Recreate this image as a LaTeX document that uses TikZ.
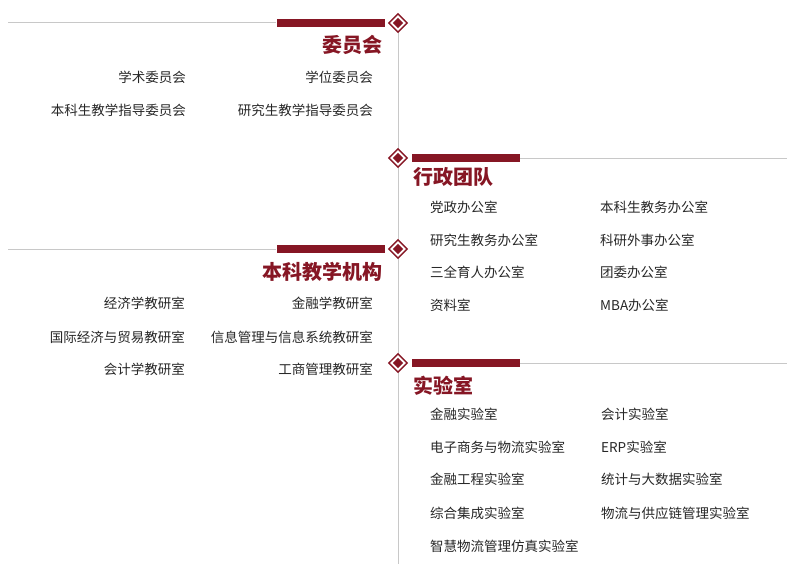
\documentclass[tikz,border=0pt]{standalone}
\usepackage{fontspec}
\setmainfont{Noto Sans CJK SC}
\usetikzlibrary{shapes.geometric}
\definecolor{darkred}{RGB}{134,22,36}
\definecolor{linegray}{RGB}{200,200,200}
\begin{document}
\begin{tikzpicture}
	[x=1pt,y=-1pt,
	bar/.style={rectangle,fill=darkred,draw=none,minimum width=108pt,minimum height=8pt,inner sep=0pt},
	outerdia/.style={diamond,draw=darkred,fill=white,line width=1.4pt,minimum size=19pt,inner sep=0pt},
	innerdia/.style={diamond,fill=darkred,minimum size=10.5pt,inner sep=0pt},
	title/.style={text=darkred,font=\fontsize{20}{22}\selectfont\bfseries,inner sep=0pt},
	item/.style={text=black!85,font=\fontsize{13.5}{15}\selectfont,inner sep=0pt}
	]
	\useasboundingbox (0,0) rectangle (800,586);
	\coordinate (d1) at (398,23);
	\coordinate (d2) at (398,158);
	\coordinate (d3) at (398,249);
	\coordinate (d4) at (398,363);
	\coordinate (vend) at (398,564);
	\draw[linegray,line width=1pt] (d1) -- (vend);

% committees
	\node[bar] (bar1) at (330.5,23){};
	\coordinate (g1) at (8,23);
	\draw[linegray,line width=1pt] (g1) -- (bar1.west);
	\node[outerdia] (dia1) at (d1){};
	\node[innerdia] at (dia1){};
	\node[title,anchor=east] (t1) at (383,45){委员会};
	\node[item,anchor=east] (c1) at (186,77){学术委员会};
	\node[item,anchor=east] (c2) at (373,77){学位委员会};
	\node[item,anchor=east] (c3) at (186,110){本科生教学指导委员会};
	\node[item,anchor=east] (c4) at (373,110){研究生教学指导委员会};

% administration
	\node[bar] (bar2) at (466,158){};
	\coordinate (g2) at (787,158);
	\draw[linegray,line width=1pt] (bar2.east) -- (g2);
	\node[outerdia] (dia2) at (d2){};
	\node[innerdia] at (dia2){};
	\node[title,anchor=west] (t2) at (413,177){行政团队};
	\node[item,anchor=west] (a1) at (430,207){党政办公室};
	\node[item,anchor=west] (a2) at (600,207){本科生教务办公室};
	\node[item,anchor=west] (a3) at (430,240){研究生教务办公室};
	\node[item,anchor=west] (a4) at (600,240){科研外事办公室};
	\node[item,anchor=west] (a5) at (430,272){三全育人办公室};
	\node[item,anchor=west] (a6) at (600,272){团委办公室};
	\node[item,anchor=west] (a7) at (430,305){资料室};
	\node[item,anchor=west] (a8) at (600,305){MBA办公室};

% teaching units
	\node[bar] (bar3) at (330.5,249){};
	\coordinate (g3) at (8,249);
	\draw[linegray,line width=1pt] (g3) -- (bar3.west);
	\node[outerdia] (dia3) at (d3){};
	\node[innerdia] at (dia3){};
	\node[title,anchor=east] (t3) at (383,272){本科教学机构};
	\node[item,anchor=east] (u1) at (185,303){经济学教研室};
	\node[item,anchor=east] (u2) at (373,303){金融学教研室};
	\node[item,anchor=east] (u3) at (185,337){国际经济与贸易教研室};
	\node[item,anchor=east] (u4) at (373,337){信息管理与信息系统教研室};
	\node[item,anchor=east] (u5) at (185,369){会计学教研室};
	\node[item,anchor=east] (u6) at (373,369){工商管理教研室};

% labs
	\node[bar] (bar4) at (466,363){};
	\coordinate (g4) at (787,363);
	\draw[linegray,line width=1pt] (bar4.east) -- (g4);
	\node[outerdia] (dia4) at (d4){};
	\node[innerdia] at (dia4){};
	\node[title,anchor=west] (t4) at (413,386){实验室};
	\node[item,anchor=west] (l1) at (430,414){金融实验室};
	\node[item,anchor=west] (l2) at (601,414){会计实验室};
	\node[item,anchor=west] (l3) at (430,447){电子商务与物流实验室};
	\node[item,anchor=west] (l4) at (601,447){ERP实验室};
	\node[item,anchor=west] (l5) at (430,479){金融工程实验室};
	\node[item,anchor=west] (l6) at (601,479){统计与大数据实验室};
	\node[item,anchor=west] (l7) at (430,513){综合集成实验室};
	\node[item,anchor=west] (l8) at (601,513){物流与供应链管理实验室};
	\node[item,anchor=west] (l9) at (430,546){智慧物流管理仿真实验室};
\end{tikzpicture}
\end{document}
